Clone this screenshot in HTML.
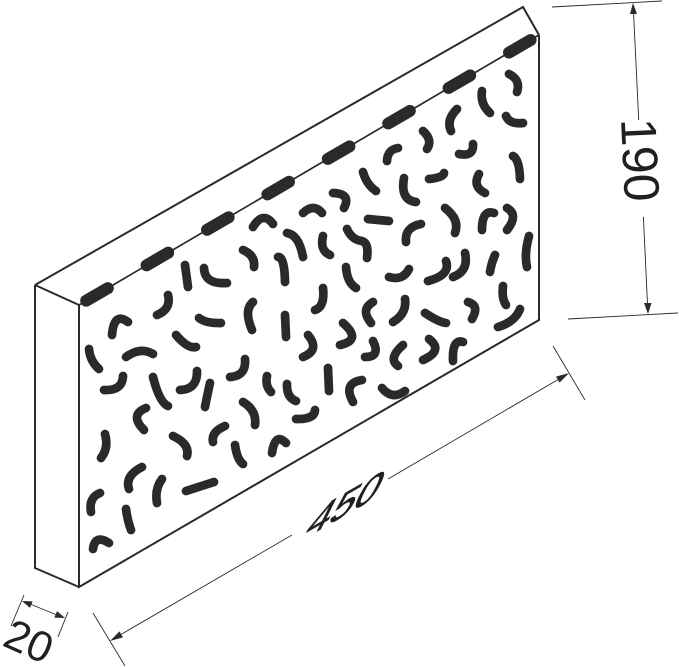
<!DOCTYPE html>
<html>
<head>
<meta charset="utf-8">
<style>
  html, body { margin: 0; padding: 0; background: #ffffff; }
  svg { display: block; }
  text { font-family: "Liberation Sans", Arial, sans-serif; fill: #231f20; }
</style>
</head>
<body>
<svg width="679" height="667" viewBox="0 0 679 667" xmlns="http://www.w3.org/2000/svg">
  <rect x="0" y="0" width="679" height="667" fill="#ffffff"/>

  <!-- Box outline -->
  <g fill="none" stroke="#2b2a28" stroke-width="2" stroke-linejoin="miter" stroke-linecap="butt">
    <path d="M35,285 L523,7 L539,35"/>
    <path d="M35,285 L79,305"/>
    <path d="M35,285 L35,568 L79,587"/>
    <path d="M79,305 L79,587 L539,320 L539,35"/>
  </g>
  <line x1="79" y1="305" x2="539" y2="35" stroke="#2b2a28" stroke-width="1.7"/>

  <!-- Capsules along the top edge -->
  <g stroke="#2b2a28" stroke-width="12" stroke-linecap="round" fill="none">
    <line x1="86.2" y1="300.7" x2="107.8" y2="288.2"/>
    <line x1="146.6" y1="265.3" x2="168.2" y2="252.7"/>
    <line x1="207.0" y1="229.8" x2="228.6" y2="217.3"/>
    <line x1="267.4" y1="194.4" x2="289.0" y2="181.8"/>
    <line x1="327.8" y1="158.9" x2="349.4" y2="146.4"/>
    <line x1="388.2" y1="123.5" x2="409.8" y2="110.9"/>
    <line x1="448.6" y1="88.0" x2="470.2" y2="75.4"/>
    <line x1="509.0" y1="52.6" x2="530.6" y2="40.0"/>
  </g>

  <!-- Squiggle pattern -->
  <path fill="none" stroke="#2b2a28" stroke-width="8.7" stroke-linecap="round" stroke-linejoin="round" d="
    M303,213 Q313.5,203 322,213
    M253,227 Q263,210.5 273,224
    M287,233 Q299,235 303,257
    M323,236 Q319.5,250.5 330,255
    M185,265 L188,287
    M204,268 Q204.5,284.5 227,283
    M243,250 Q255.5,255.5 254,267
    M278,257 Q284.5,256.5 285,282
    M323,288 Q325,307 315,310
    M168,295 Q171.5,309 157,315
    M128,322 Q114,311.5 112,335
    M199,318 Q206,323.5 221,323
    M253,302 Q243.5,310 252,330
    M285,315 L286,337
    M176,335 Q188,349 196,347
    M308,335 Q320.5,350 303,357
    M89,349 Q90,361 99,369
    M126,357 Q140.5,346.5 153,354
    M123,376 Q122.5,391 104,390
    M153,377 Q159.5,402.5 168,406
    M197,371 Q197.5,389.5 180,390
    M210,383 Q206.5,399 205,407
    M245,359 Q246.5,376 230,377
    M267,376 Q265,386 271,392
    M287,384 Q286.5,397.5 296,401
    M328,368 L329,391
    M296,419 Q314.5,419.5 315,410
    M146,408 Q129,415 144,430
    M243,402 Q257,410.5 255,425
    M225,426 Q211,432 213,442
    M173,436 Q190,444 187,456
    M235,445 Q237,459.5 243,464
    M272,453 Q275,432 286,443
    M105,434 Q109,448 101,458
    M142,467 Q124.5,476 129,489
    M162,479 Q154.5,489 157,503
    M186,491 L214,482
    M100,493 Q88.5,497.5 91,512
    M126,509 Q127.5,520.5 131,530
    M93,549 Q95,534 109,543
    M509,74 Q521,80 517,92
    M482,91 Q480,104 490,113
    M506,116 Q509.5,124.5 523,123
    M457,109 Q446,120 451,131
    M423,131 Q433,140 427,149
    M459,154 Q474,157 473,144
    M398,148 Q387.5,149.5 387,161
    M513,156 Q519.5,159.5 520,179
    M363,172 Q366.5,184.5 376,191
    M429,179 Q443.5,177.5 444,173
    M404,178 Q400,200 416,202
    M479,174 Q472,186.5 485,193
    M333,193 Q351.5,193.5 344,208
    M368,219 L389,221
    M445,208 Q460,219.5 455,233
    M482,230 Q482,209 494,213
    M507,208 Q519,215 507,230
    M421,224 Q404.5,227 406,242
    M347,229 Q352,240 362,241 Q369,243 367,258
    M529,236 Q524,254.5 527,267
    M389,277 Q403,281 409,269
    M446,261 Q451,275 428,281
    M465,253 Q469,271 453,277
    M495,255 Q491.5,262.5 490,272
    M346,267 Q347,282.5 356,288
    M503,286 Q501.5,298.5 506,305
    M373,302 Q360,309.5 371,323
    M405,299 Q407,313.5 393,322
    M425,313 Q438.5,322 446,323
    M468,302 Q480,305.5 472,319
    M520,309 Q515,322 498,327
    M343,323 Q362.5,340 340,345
    M373,341 Q381,357 365,357
    M403,345 Q387.5,358.5 398,366
    M429,339 Q444,350.5 423,360
    M463,342 Q452,338.5 453,361
    M362,380 Q342.5,383 353,402
    M382,388 Q392.5,400.5 405,391
  "/>

  <!-- Dimension 190 -->
  <g stroke="#2b2a28" stroke-width="0.9" fill="none">
    <line x1="552" y1="7" x2="662" y2="1"/>
    <line x1="568" y1="319" x2="678" y2="313"/>
    <line x1="633.5" y1="12" x2="638.7" y2="120"/>
    <line x1="643.4" y1="217" x2="647.5" y2="304"/>
  </g>
  <polygon points="633,3 637,14 630,14" fill="#2b2a28"/>
  <polygon points="648,314 651.5,303 644,303" fill="#2b2a28"/>
  <text font-size="50" transform="translate(621,119) rotate(87.3)">190</text>

  <!-- Dimension 450 -->
  <g stroke="#2b2a28" stroke-width="0.9" fill="none">
    <line x1="93" y1="613" x2="125" y2="666"/>
    <line x1="553" y1="346" x2="585" y2="400"/>
    <line x1="120" y1="635" x2="292" y2="535"/>
    <line x1="388" y1="479" x2="559" y2="379"/>
  </g>
  <polygon points="110,641 123,637.4 119.4,631.4" fill="#2b2a28"/>
  <polygon points="569,373 559.6,382.6 556,376.6" fill="#2b2a28"/>
  <text font-size="50" stroke="#231f20" stroke-width="1" transform="matrix(0.866,-0.5,-0.45,0.9,302,540)">450</text>

  <!-- Dimension 20 -->
  <g stroke="#2b2a28" stroke-width="0.9" fill="none">
    <line x1="24" y1="595" x2="11" y2="626"/>
    <line x1="68" y1="612" x2="58" y2="637"/>
    <line x1="30" y1="604" x2="57" y2="615"/>
  </g>
  <polygon points="22,601 30,607.9 32.6,601.4" fill="#2b2a28"/>
  <polygon points="65,618 54.4,617.6 57,611.1" fill="#2b2a28"/>
  <text font-size="43" transform="translate(1,645) rotate(24)">20</text>
</svg>
</body>
</html>
